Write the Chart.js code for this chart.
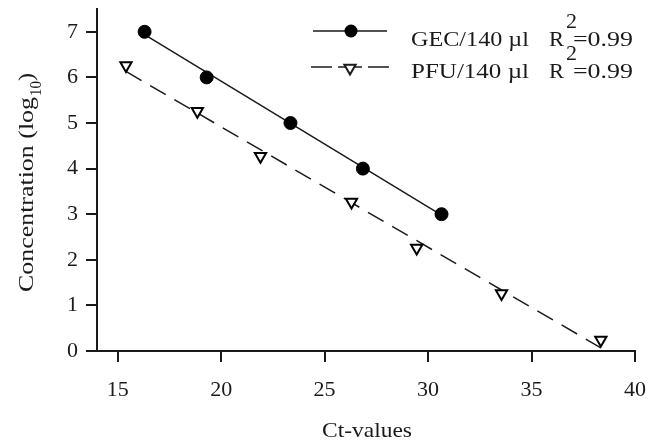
<!DOCTYPE html>
<html><head><meta charset="utf-8">
<script src="https://cdn.jsdelivr.net/npm/chart.js@4"></script>
<style>html,body{margin:0;padding:0;background:#fff}
#probe{font-family:"Liberation Serif";position:absolute;left:-999px;top:0;font-size:20px}</style>
</head><body>
<span id="probe">GEC 0123456789 Ct-values µ</span>
<canvas id="c" width="657" height="444"></canvas>
<script>
// ---- data ----
const gecCt   = [16.3, 19.3, 23.35, 26.85, 30.65];
const gecConc = [7, 6, 5, 4, 3];
const pfuCt   = [15.4, 18.85, 21.9, 26.3, 29.45, 33.55, 38.35];
const pfuConc = [6.26, 5.26, 4.27, 3.27, 2.26, 1.26, 0.24];
// fitted regression lines (end points)
const gecFitCt   = [16.3, 30.65];
const gecFitConc = [6.94, 2.98];
const pfuFitCt   = [15.4, 38.35];
const pfuFitConc = [6.13, 0.07];
const xTicks = [15, 20, 25, 30, 35, 40];
const yTicks = [0, 1, 2, 3, 4, 5, 6, 7];
const seriesNames = ['GEC/140 µl', 'PFU/140 µl'];
const r2Values = ['0.99', '0.99'];
const xTitle = 'Ct-values';
const yTitleMain = 'Concentration (log';
const yTitleSub = '10';
const yTitleEnd = ')';

const FONT = 'Liberation Serif';
const INK = '#1a1a1a';

function pts(xs, ys) { return xs.map((x, i) => ({ x: x, y: ys[i] })); }

function drawFit(ctx, text, x, y, w, size) {
  ctx.save();
  ctx.font = size + 'px "' + FONT + '"';
  const m = ctx.measureText(text).width;
  ctx.translate(x, y);
  ctx.scale(w / m, 1);
  ctx.fillText(text, 0, 0);
  ctx.restore();
}

const textPlugin = {
  id: 'texts',
  afterDraw(chart) {
    const ctx = chart.ctx;
    ctx.save();
    ctx.fillStyle = INK;
    ctx.strokeStyle = INK;
    ctx.textBaseline = 'alphabetic';
    ctx.textAlign = 'left';
    // x title
    drawFit(ctx, xTitle, 322, 437, 90, 22);
    // y title (rotated)
    ctx.save();
    ctx.translate(33, 292);
    ctx.rotate(-Math.PI / 2);
    drawFit(ctx, yTitleMain, 0, 0, 195, 22);
    drawFit(ctx, yTitleSub, 196, 8, 15, 16);
    drawFit(ctx, yTitleEnd, 211, 0, 8, 22);
    ctx.restore();

    // legend row 1
    ctx.lineWidth = 1.5;
    ctx.setLineDash([]);
    ctx.beginPath(); ctx.moveTo(313, 31); ctx.lineTo(387, 31); ctx.stroke();
    ctx.fillStyle = '#000';
    ctx.beginPath(); ctx.arc(351, 31, 6.5, 0, Math.PI * 2); ctx.fill();
    ctx.fillStyle = INK;
    drawFit(ctx, seriesNames[0], 411, 46, 118, 22);
    drawFit(ctx, 'R', 549, 46, 15, 22);
    drawFit(ctx, '2', 566, 28, 11, 22);
    drawFit(ctx, '=' + r2Values[0], 573, 46, 60, 22);

    // legend row 2
    const ly = 67;
    ctx.beginPath(); ctx.moveTo(311, ly); ctx.lineTo(332, ly); ctx.stroke();
    ctx.beginPath(); ctx.moveTo(368, ly); ctx.lineTo(389, ly); ctx.stroke();
    ctx.beginPath(); ctx.moveTo(338, ly); ctx.lineTo(362, ly); ctx.stroke();
    // triangle (down)
    const r = 6.5, cx = 350, cy = ly + 1;
    ctx.beginPath();
    ctx.moveTo(cx, cy + r);
    ctx.lineTo(cx - r * Math.sin(Math.PI / 3), cy - r / 2);
    ctx.lineTo(cx + r * Math.sin(Math.PI / 3), cy - r / 2);
    ctx.closePath();
    ctx.fillStyle = '#fff'; ctx.fill();
    ctx.lineWidth = 2; ctx.stroke();
    ctx.fillStyle = INK;
    drawFit(ctx, seriesNames[1], 411, 78, 118, 22);
    drawFit(ctx, 'R', 549, 78, 15, 22);
    drawFit(ctx, '2', 566, 60, 11, 22);
    drawFit(ctx, '=' + r2Values[1], 573, 78, 60, 22);
    ctx.restore();
  }
};

function axis(extra) {
  return Object.assign({
    type: 'linear',
    grid: { display: true, drawOnChartArea: false, drawTicks: true, tickLength: 11, color: INK, lineWidth: 2 },
    border: { display: true, color: INK, width: 2 },
    ticks: { font: { family: FONT, size: 22 }, color: INK, padding: 8, maxRotation: 0 }
  }, extra);
}

function build() {
  new Chart(document.getElementById('c'), {
    type: 'scatter',
    data: {
      datasets: [
        { label: seriesNames[0], data: pts(gecCt, gecConc), pointStyle: 'circle', pointRadius: 6.5,
          backgroundColor: '#000', borderColor: '#000', borderWidth: 1, showLine: false },
        { label: seriesNames[1], data: pts(pfuCt, pfuConc), pointStyle: 'triangle', rotation: 180, pointRadius: 6.5,
          backgroundColor: '#fff', borderColor: '#000', borderWidth: 2, showLine: false },
        { label: 'GEC fit', data: pts(gecFitCt, gecFitConc), showLine: true, borderColor: INK, borderWidth: 1.5,
          pointRadius: 0, fill: false },
        { label: 'PFU fit', data: pts(pfuFitCt, pfuFitConc), showLine: true, borderColor: INK, borderWidth: 1.5,
          borderDash: [18, 10], pointRadius: 0, fill: false }
      ]
    },
    options: {
      responsive: false, animation: false, devicePixelRatio: 1,
      layout: { padding: { top: 9, right: 22, left: 0, bottom: 0 } },
      plugins: { legend: { display: false }, tooltip: { enabled: false } },
      elements: { point: { hitRadius: 0 } },
      clip: false,
      scales: {
        x: axis({
          min: 14, max: 40,
          ticks: { font: { family: FONT, size: 22 }, color: INK, padding: 15, maxRotation: 0 },
          afterBuildTicks: s => { s.ticks = xTicks.map(v => ({ value: v })); },
          afterFit: s => { s.height = 93; s.paddingLeft = 0; s.paddingRight = 0; }
        }),
        y: axis({
          min: 0, max: 7.5,
          afterBuildTicks: s => { s.ticks = yTicks.map(v => ({ value: v })); },
          afterFit: s => { s.width = 97; s.paddingTop = 0; s.paddingBottom = 0; }
        })
      }
    },
    plugins: [textPlugin]
  });
}

if (document.fonts && document.fonts.load) {
  Promise.all([
    document.fonts.load('22px "Liberation Serif"'),
    document.fonts.load('16px "Liberation Serif"')
  ]).then(build, build);
} else { build(); }
</script>
</body></html>
